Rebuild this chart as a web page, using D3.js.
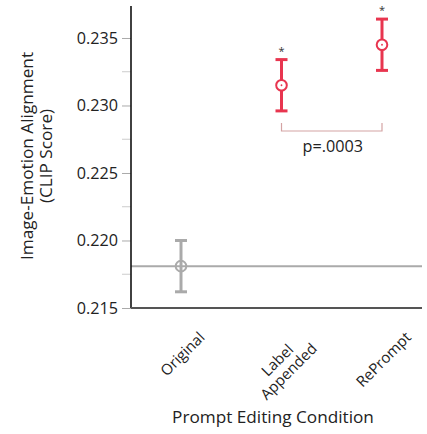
<!DOCTYPE html>
<html>
<head>
<meta charset="utf-8">
<script src="https://cdn.jsdelivr.net/npm/d3@7"></script>
<style>
  html, body { margin: 0; padding: 0; background: #fff; }
  svg { display: block; font-family: "Open Sans", "Noto Sans", sans-serif; }
</style>
</head>
<body>
<svg id="chart" width="427" height="434"></svg>
<script>
// ---- data ----
const categories = ["Original", "Label\nAppended", "RePrompt"];
const means      = [0.2181, 0.2315, 0.2345];
const errLow     = [0.2162, 0.2296, 0.2326];
const errHigh    = [0.2200, 0.2334, 0.2364];
const significant = [false, true, true];
const yTicks     = [0.215, 0.220, 0.225, 0.230, 0.235];
const yMinorTicks = [0.2175, 0.2225, 0.2275, 0.2325];
const pLabel = "p=.0003";
const baselineValue = means[0];

// ---- layout ----
const svg = d3.select("#chart");
const plotLeft = 131, plotRight = 422, plotTop = 6, plotBottom = 308;
const red = "#e8354f", gray = "#aaaaaa";

const y = d3.scaleLinear().domain([0.215, 0.23737]).range([plotBottom, plotTop]);
const x = d3.scalePoint().domain(categories).range([181, 382]);

// y axis
const yAxis = d3.axisLeft(y).tickValues(yTicks).tickFormat(d3.format(".3f")).tickSize(9).tickPadding(4);
const gy = svg.append("g").attr("transform", `translate(${plotLeft},0)`).call(yAxis);
gy.select(".domain").remove();
gy.selectAll(".tick line").attr("stroke", "#aaaaaa").attr("stroke-width", 1);
gy.selectAll(".tick text").attr("font-size", 16.2).attr("fill", "#222").attr("font-family", "Open Sans");
// minor ticks
svg.append("g").selectAll("line").data(yMinorTicks).join("line")
  .attr("x1", plotLeft - 9).attr("x2", plotLeft)
  .attr("y1", d => y(d)).attr("y2", d => y(d))
  .attr("stroke", "#cccccc").attr("stroke-width", 1);

// baseline
svg.append("line")
  .attr("x1", plotLeft).attr("x2", plotRight)
  .attr("y1", y(baselineValue)).attr("y2", y(baselineValue))
  .attr("stroke", gray).attr("stroke-width", 2);

// axes lines
svg.append("line").attr("x1", plotLeft).attr("x2", plotLeft).attr("y1", plotTop).attr("y2", plotBottom)
  .attr("stroke", "#111").attr("stroke-width", 1.6);
svg.append("line").attr("x1", plotLeft).attr("x2", plotRight).attr("y1", plotBottom).attr("y2", plotBottom)
  .attr("stroke", "#555").attr("stroke-width", 2);

// error bars + markers
const pts = categories.map((c, i) => ({c, m: means[i], lo: errLow[i], hi: errHigh[i], sig: significant[i]}));
const g = svg.append("g");
pts.forEach(p => {
  const col = p.sig ? red : gray;
  const cx = x(p.c);
  g.append("line").attr("x1", cx).attr("x2", cx).attr("y1", y(p.lo)).attr("y2", y(p.hi))
    .attr("stroke", col).attr("stroke-width", 3);
  [p.lo, p.hi].forEach(v => {
    g.append("line").attr("x1", cx - 6).attr("x2", cx + 6).attr("y1", y(v)).attr("y2", y(v))
      .attr("stroke", col).attr("stroke-width", 3);
  });
  g.append("circle").attr("cx", cx).attr("cy", y(p.m)).attr("r", 5.3)
    .attr("fill", p.sig ? "#fff" : "none").attr("stroke", col).attr("stroke-width", 2);
  if (p.sig) {
    g.append("circle").attr("cx", cx).attr("cy", y(p.m)).attr("r", 0.9).attr("fill", col);
    g.append("text").attr("x", cx).attr("y", y(p.hi) - 5).attr("text-anchor", "middle")
      .attr("font-size", 11).attr("fill", "#333").text("*");
  }
});

// bracket
const bx1 = x(categories[1]), bx2 = x(categories[2]);
const by = 131;
svg.append("path")
  .attr("d", `M${bx1},${by - 8}V${by}H${bx2}V${by - 8}`)
  .attr("fill", "none").attr("stroke", "#d4a3a3").attr("stroke-width", 1.2);
svg.append("text").attr("x", (bx1 + bx2) / 2 + 1).attr("y", 152).attr("text-anchor", "middle")
  .attr("font-size", 16.2).attr("fill", "#222").text(pLabel);

// x tick labels, rotated 45°, bbox centered on tick, top just below axis
const labelTop = 327;
categories.forEach(c => {
  const lines = c.split("\n");
  const lh = 16;
  const t = svg.append("text").attr("font-size", 15).attr("fill", "#222").attr("text-anchor", "middle");
  lines.forEach((ln, i) => {
    t.append("tspan").attr("x", 0).attr("dy", i === 0 ? 0 : lh).text(ln);
  });
  const bb = t.node().getBBox();
  const w = bb.width, h = bb.height;
  const cyLocal = bb.y + h / 2;
  const rotH = (w + h) * Math.SQRT1_2;
  const cx = x(c) + 1, cy = labelTop + rotH / 2;
  t.attr("transform", `translate(${cx},${cy}) rotate(-45) translate(0,${-cyLocal})`);
});

// axis titles
svg.append("text").attr("x", 273).attr("y", 423).attr("text-anchor", "middle")
  .attr("font-size", 17.2).attr("fill", "#222").text("Prompt Editing Condition");
const yl = svg.append("text").attr("transform", `translate(33,156) rotate(-90)`)
  .attr("text-anchor", "middle").attr("font-size", 17.2).attr("fill", "#222");
yl.append("tspan").attr("x", 0).attr("dy", 0).text("Image-Emotion Alignment");
yl.append("tspan").attr("x", 0).attr("dy", 19).text("(CLIP Score)");
</script>
</body>
</html>
